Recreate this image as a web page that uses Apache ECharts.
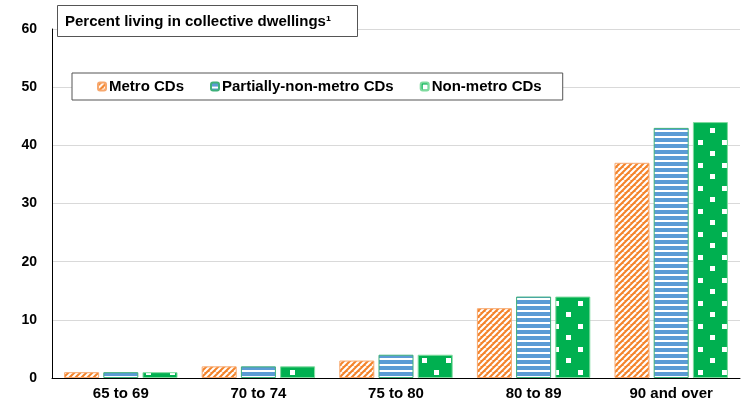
<!DOCTYPE html>
<html><head><meta charset="utf-8">
<script src="https://cdn.jsdelivr.net/npm/echarts@6/dist/echarts.min.js"></script>
<style>html,body{margin:0;padding:0;background:#fff}#c{width:741px;height:405px}</style>
</head><body><div id="c"></div>
<script>
const categories = ['65 to 69', '70 to 74', '75 to 80', '80 to 89', '90 and over'];
const metro = [1, 2, 3, 12, 37];
const partiallyNonMetro = [1, 2, 4, 14, 43];
const nonMetro = [1, 2, 4, 14, 44];
const seriesNames = ['Metro CDs', 'Partially-non-metro CDs', 'Non-metro CDs'];
const yTicks = [0, 10, 20, 30, 40, 50, 60];
const titleText = 'Percent living in collective dwellings\u00B9';

function stripeDiag() {
  const s = 6, c = document.createElement('canvas'); c.width = s; c.height = s;
  const g = c.getContext('2d');
  g.fillStyle = '#F4832A'; g.fillRect(0, 0, s, s);
  g.strokeStyle = '#ffffff'; g.lineWidth = 2.1;
  for (const o of [-s, 0, s]) { g.beginPath(); g.moveTo(o, s); g.lineTo(o + s, 0); g.stroke(); }
  return c;
}
function stripeHoriz() {
  const c = document.createElement('canvas'); c.width = 6; c.height = 6;
  const g = c.getContext('2d');
  g.fillStyle = '#5B9BD5'; g.fillRect(0, 0, 6, 6);
  g.fillStyle = '#ffffff'; g.fillRect(0, 4, 6, 2);
  return c;
}
function dots() {
  const w = 24, h = 23, c = document.createElement('canvas'); c.width = w; c.height = h;
  const g = c.getContext('2d');
  g.fillStyle = '#00B050'; g.fillRect(0, 0, w, h);
  g.fillStyle = '#ffffff';
  g.fillRect(2, 2, 5, 5); g.fillRect(14, 13, 5, 5);
  return c;
}
const pats = [stripeDiag(), stripeHoriz(), dots()];
const borders = ['#F7A86E', '#3DB07A', '#7EDB9E'];
const datas = [metro, partiallyNonMetro, nonMetro];

const chart = echarts.init(document.getElementById('c'));
chart.setOption({
  animation: false,
  title: {
    text: titleText, left: 57, top: 5,
    padding: [9, 27, 8, 8],
    borderColor: '#555', borderWidth: 1, backgroundColor: '#fff',
    textStyle: { fontFamily: 'Liberation Sans, Arial', fontWeight: 'bold', fontSize: 15, color: '#000' }
  },
  legend: {
    left: 72, top: 73, itemWidth: 8, itemHeight: 8, itemGap: 26,
    padding: [6, 21, 6, 25],
    borderColor: '#555', borderWidth: 1, backgroundColor: '#fff',
    textStyle: { fontFamily: 'Liberation Sans, Arial', fontWeight: 'bold', fontSize: 15, color: '#000', padding: [0, 0, 0, -2] },
    data: seriesNames
  },
  grid: { left: 52, right: 1, top: 29, bottom: 27, containLabel: false },
  xAxis: {
    type: 'category', data: categories,
    axisLine: { lineStyle: { color: '#000', width: 1 } },
    axisTick: { show: false },
    axisLabel: { fontFamily: 'Liberation Sans, Arial', fontWeight: 'bold', fontSize: 15, color: '#000', margin: 8 }
  },
  yAxis: {
    type: 'value', min: 0, max: 60, interval: 10,
    axisLine: { show: true, lineStyle: { color: '#000', width: 1 } },
    axisTick: { show: false },
    splitLine: { lineStyle: { color: '#d9d9d9' } },
    axisLabel: { fontFamily: 'Liberation Sans, Arial', fontWeight: 'bold', fontSize: 14, color: '#000', margin: 15,
      formatter: v => yTicks.includes(v) ? String(v) : '' }
  },
  series: seriesNames.map((n, i) => ({
    name: n, type: 'bar', data: datas[i], barWidth: 35, barGap: '12%',
    itemStyle: { color: { image: pats[i], repeat: 'repeat' }, borderColor: borders[i], borderWidth: 1 }
  }))
});
</script></body></html>
